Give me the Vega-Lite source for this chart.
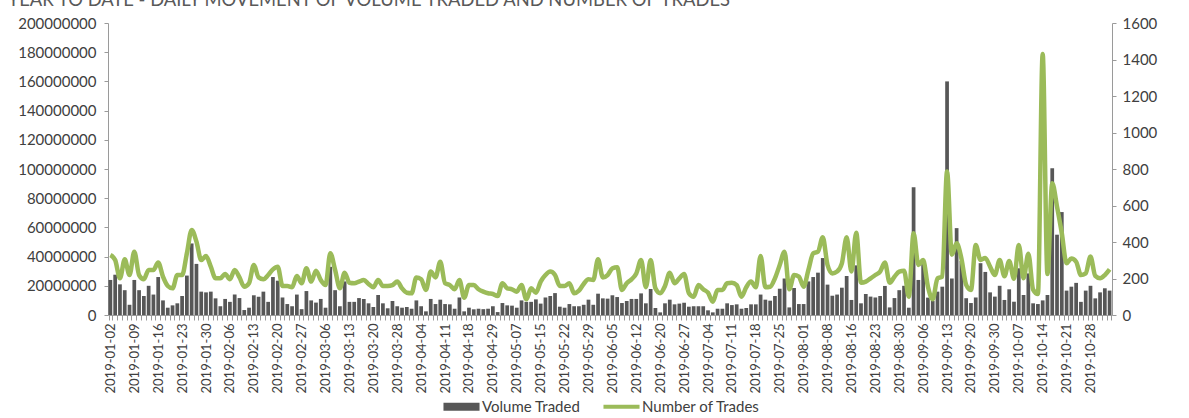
{
"$schema":"https://vega.github.io/schema/vega-lite/v6.json",
"width":1004,"height":292,
"autosize":{"type":"none"},
"padding":{"left":108,"top":23,"right":77,"bottom":103},
"background":"white",
"config":{"view":{"stroke":null},"font":"Lato"},
"title":{"text":"YEAR TO DATE - DAILY MOVEMENT OF VOLUME TRADED AND NUMBER OF TRADES","anchor":"start","dx":-10,"offset":7,"fontSize":18.4,"fontWeight":"normal","color":"#595959","font":"Lato"},
"data":{"values":[
{"date":"2019-01-02","volume":24000000,"trades":329},
{"date":"2019-01-03","volume":27600000,"trades":301},
{"date":"2019-01-04","volume":21000000,"trades":201},
{"date":"2019-01-07","volume":17000000,"trades":305},
{"date":"2019-01-08","volume":7000000,"trades":219},
{"date":"2019-01-09","volume":24000000,"trades":347},
{"date":"2019-01-10","volume":17000000,"trades":219},
{"date":"2019-01-11","volume":13000000,"trades":196},
{"date":"2019-01-14","volume":20000000,"trades":247},
{"date":"2019-01-15","volume":14000000,"trades":247},
{"date":"2019-01-16","volume":26000000,"trades":287},
{"date":"2019-01-17","volume":10000000,"trades":210},
{"date":"2019-01-18","volume":5000000,"trades":159},
{"date":"2019-01-21","volume":6600000,"trades":146},
{"date":"2019-01-22","volume":8000000,"trades":219},
{"date":"2019-01-23","volume":13000000,"trades":219},
{"date":"2019-01-24","volume":27000000,"trades":338},
{"date":"2019-01-25","volume":49000000,"trades":466},
{"date":"2019-01-28","volume":35000000,"trades":402},
{"date":"2019-01-29","volume":16000000,"trades":301},
{"date":"2019-01-30","volume":15500000,"trades":323},
{"date":"2019-01-31","volume":16000000,"trades":265},
{"date":"2019-02-01","volume":11400000,"trades":201},
{"date":"2019-02-04","volume":6000000,"trades":201},
{"date":"2019-02-05","volume":11000000,"trades":225},
{"date":"2019-02-06","volume":9000000,"trades":196},
{"date":"2019-02-07","volume":14000000,"trades":247},
{"date":"2019-02-08","volume":11600000,"trades":206},
{"date":"2019-02-11","volume":3400000,"trades":155},
{"date":"2019-02-12","volume":5000000,"trades":174},
{"date":"2019-02-13","volume":13500000,"trades":274},
{"date":"2019-02-14","volume":12500000,"trades":206},
{"date":"2019-02-15","volume":16000000,"trades":196},
{"date":"2019-02-18","volume":9000000,"trades":219},
{"date":"2019-02-19","volume":26000000,"trades":250},
{"date":"2019-02-20","volume":23500000,"trades":265},
{"date":"2019-02-21","volume":12000000,"trades":159},
{"date":"2019-02-22","volume":7500000,"trades":159},
{"date":"2019-02-25","volume":6000000,"trades":152},
{"date":"2019-02-26","volume":14000000,"trades":214},
{"date":"2019-02-27","volume":4000000,"trades":174},
{"date":"2019-02-28","volume":16400000,"trades":256},
{"date":"2019-03-01","volume":10000000,"trades":183},
{"date":"2019-03-04","volume":8500000,"trades":243},
{"date":"2019-03-05","volume":11000000,"trades":192},
{"date":"2019-03-06","volume":5000000,"trades":164},
{"date":"2019-03-07","volume":33000000,"trades":338},
{"date":"2019-03-08","volume":17000000,"trades":247},
{"date":"2019-03-11","volume":6000000,"trades":146},
{"date":"2019-03-12","volume":23000000,"trades":232},
{"date":"2019-03-13","volume":9000000,"trades":177},
{"date":"2019-03-14","volume":9000000,"trades":174},
{"date":"2019-03-15","volume":11600000,"trades":183},
{"date":"2019-03-18","volume":11000000,"trades":192},
{"date":"2019-03-19","volume":8000000,"trades":170},
{"date":"2019-03-20","volume":5500000,"trades":152},
{"date":"2019-03-22","volume":13700000,"trades":192},
{"date":"2019-03-25","volume":8000000,"trades":159},
{"date":"2019-03-26","volume":4600000,"trades":159},
{"date":"2019-03-27","volume":9600000,"trades":164},
{"date":"2019-03-28","volume":6000000,"trades":183},
{"date":"2019-03-29","volume":5000000,"trades":146},
{"date":"2019-04-01","volume":5500000,"trades":122},
{"date":"2019-04-02","volume":4300000,"trades":119},
{"date":"2019-04-03","volume":10000000,"trades":206},
{"date":"2019-04-04","volume":6000000,"trades":196},
{"date":"2019-04-05","volume":2500000,"trades":137},
{"date":"2019-04-08","volume":11000000,"trades":238},
{"date":"2019-04-09","volume":7500000,"trades":206},
{"date":"2019-04-10","volume":10500000,"trades":292},
{"date":"2019-04-11","volume":7500000,"trades":174},
{"date":"2019-04-12","volume":7300000,"trades":164},
{"date":"2019-04-15","volume":4300000,"trades":141},
{"date":"2019-04-16","volume":12000000,"trades":192},
{"date":"2019-04-17","volume":2500000,"trades":95},
{"date":"2019-04-18","volume":5000000,"trades":164},
{"date":"2019-04-23","volume":3900000,"trades":164},
{"date":"2019-04-24","volume":4300000,"trades":141},
{"date":"2019-04-25","volume":4000000,"trades":128},
{"date":"2019-04-26","volume":4300000,"trades":119},
{"date":"2019-04-29","volume":6000000,"trades":115},
{"date":"2019-04-30","volume":2000000,"trades":104},
{"date":"2019-05-02","volume":8200000,"trades":174},
{"date":"2019-05-03","volume":6600000,"trades":146},
{"date":"2019-05-06","volume":6400000,"trades":141},
{"date":"2019-05-07","volume":5000000,"trades":128},
{"date":"2019-05-09","volume":10000000,"trades":164},
{"date":"2019-05-10","volume":9000000,"trades":86},
{"date":"2019-05-13","volume":9000000,"trades":146},
{"date":"2019-05-14","volume":10700000,"trades":122},
{"date":"2019-05-15","volume":7800000,"trades":183},
{"date":"2019-05-16","volume":12000000,"trades":219},
{"date":"2019-05-17","volume":13000000,"trades":238},
{"date":"2019-05-20","volume":15000000,"trades":219},
{"date":"2019-05-21","volume":5700000,"trades":159},
{"date":"2019-05-22","volume":5000000,"trades":159},
{"date":"2019-05-23","volume":7500000,"trades":174},
{"date":"2019-05-24","volume":6000000,"trades":119},
{"date":"2019-05-27","volume":6000000,"trades":133},
{"date":"2019-05-28","volume":7000000,"trades":170},
{"date":"2019-05-29","volume":10500000,"trades":196},
{"date":"2019-05-30","volume":7000000,"trades":192},
{"date":"2019-05-31","volume":14600000,"trades":305},
{"date":"2019-06-03","volume":11400000,"trades":206},
{"date":"2019-06-04","volume":11200000,"trades":219},
{"date":"2019-06-05","volume":13500000,"trades":256},
{"date":"2019-06-06","volume":12300000,"trades":261},
{"date":"2019-06-07","volume":8200000,"trades":137},
{"date":"2019-06-10","volume":9600000,"trades":174},
{"date":"2019-06-11","volume":11000000,"trades":195},
{"date":"2019-06-12","volume":11000000,"trades":228},
{"date":"2019-06-13","volume":14800000,"trades":301},
{"date":"2019-06-14","volume":8000000,"trades":152},
{"date":"2019-06-18","volume":17800000,"trades":301},
{"date":"2019-06-19","volume":4800000,"trades":146},
{"date":"2019-06-20","volume":1800000,"trades":119},
{"date":"2019-06-21","volume":8000000,"trades":159},
{"date":"2019-06-24","volume":10500000,"trades":232},
{"date":"2019-06-25","volume":7300000,"trades":174},
{"date":"2019-06-26","volume":7800000,"trades":201},
{"date":"2019-06-27","volume":8400000,"trades":225},
{"date":"2019-06-28","volume":5700000,"trades":119},
{"date":"2019-07-01","volume":6000000,"trades":100},
{"date":"2019-07-02","volume":6000000,"trades":164},
{"date":"2019-07-03","volume":6000000,"trades":141},
{"date":"2019-07-04","volume":3200000,"trades":122},
{"date":"2019-07-05","volume":1800000,"trades":73},
{"date":"2019-07-08","volume":4300000,"trades":137},
{"date":"2019-07-09","volume":4300000,"trades":137},
{"date":"2019-07-10","volume":8000000,"trades":174},
{"date":"2019-07-11","volume":6800000,"trades":177},
{"date":"2019-07-12","volume":7300000,"trades":164},
{"date":"2019-07-15","volume":4300000,"trades":100},
{"date":"2019-07-16","volume":4800000,"trades":152},
{"date":"2019-07-17","volume":7300000,"trades":183},
{"date":"2019-07-18","volume":7300000,"trades":152},
{"date":"2019-07-19","volume":14000000,"trades":323},
{"date":"2019-07-22","volume":10500000,"trades":152},
{"date":"2019-07-23","volume":9800000,"trades":155},
{"date":"2019-07-24","volume":13000000,"trades":201},
{"date":"2019-07-25","volume":18000000,"trades":274},
{"date":"2019-07-26","volume":25000000,"trades":347},
{"date":"2019-07-29","volume":5200000,"trades":141},
{"date":"2019-07-30","volume":18500000,"trades":219},
{"date":"2019-07-31","volume":7500000,"trades":210},
{"date":"2019-08-01","volume":7500000,"trades":155},
{"date":"2019-08-02","volume":23000000,"trades":247},
{"date":"2019-08-05","volume":26000000,"trades":338},
{"date":"2019-08-06","volume":29000000,"trades":347},
{"date":"2019-08-07","volume":39000000,"trades":426},
{"date":"2019-08-08","volume":20800000,"trades":274},
{"date":"2019-08-12","volume":13200000,"trades":228},
{"date":"2019-08-13","volume":14000000,"trades":238},
{"date":"2019-08-14","volume":18700000,"trades":283},
{"date":"2019-08-15","volume":26700000,"trades":426},
{"date":"2019-08-16","volume":10300000,"trades":238},
{"date":"2019-08-19","volume":34000000,"trades":451},
{"date":"2019-08-20","volume":8000000,"trades":177},
{"date":"2019-08-21","volume":14400000,"trades":183},
{"date":"2019-08-22","volume":12600000,"trades":201},
{"date":"2019-08-23","volume":12000000,"trades":219},
{"date":"2019-08-26","volume":13000000,"trades":238},
{"date":"2019-08-27","volume":19900000,"trades":287},
{"date":"2019-08-28","volume":5200000,"trades":177},
{"date":"2019-08-29","volume":11600000,"trades":210},
{"date":"2019-08-30","volume":17000000,"trades":238},
{"date":"2019-09-02","volume":20000000,"trades":243},
{"date":"2019-09-03","volume":5000000,"trades":100},
{"date":"2019-09-04","volume":87500000,"trades":448},
{"date":"2019-09-05","volume":24000000,"trades":274},
{"date":"2019-09-06","volume":36000000,"trades":301},
{"date":"2019-09-09","volume":11900000,"trades":155},
{"date":"2019-09-10","volume":9600000,"trades":86},
{"date":"2019-09-11","volume":16000000,"trades":201},
{"date":"2019-09-12","volume":19400000,"trades":210},
{"date":"2019-09-13","volume":160000000,"trades":786},
{"date":"2019-09-16","volume":25000000,"trades":330},
{"date":"2019-09-17","volume":59500000,"trades":393},
{"date":"2019-09-18","volume":37000000,"trades":310},
{"date":"2019-09-19","volume":11500000,"trades":165},
{"date":"2019-09-20","volume":8200000,"trades":137},
{"date":"2019-09-23","volume":12000000,"trades":384},
{"date":"2019-09-25","volume":35500000,"trades":301},
{"date":"2019-09-26","volume":29500000,"trades":313},
{"date":"2019-09-27","volume":15500000,"trades":265},
{"date":"2019-09-30","volume":12600000,"trades":219},
{"date":"2019-10-01","volume":20000000,"trades":301},
{"date":"2019-10-02","volume":10300000,"trades":212},
{"date":"2019-10-03","volume":17600000,"trades":296},
{"date":"2019-10-04","volume":9100000,"trades":198},
{"date":"2019-10-07","volume":32000000,"trades":384},
{"date":"2019-10-08","volume":13700000,"trades":201},
{"date":"2019-10-09","volume":28500000,"trades":336},
{"date":"2019-10-10","volume":8000000,"trades":139},
{"date":"2019-10-11","volume":7500000,"trades":115},
{"date":"2019-10-14","volume":10000000,"trades":1430},
{"date":"2019-10-15","volume":13700000,"trades":224},
{"date":"2019-10-16","volume":100500000,"trades":722},
{"date":"2019-10-17","volume":55000000,"trades":594},
{"date":"2019-10-18","volume":70500000,"trades":448},
{"date":"2019-10-21","volume":16700000,"trades":283},
{"date":"2019-10-22","volume":19400000,"trades":310},
{"date":"2019-10-23","volume":22000000,"trades":292},
{"date":"2019-10-24","volume":9000000,"trades":219},
{"date":"2019-10-25","volume":16700000,"trades":228},
{"date":"2019-10-28","volume":20000000,"trades":320},
{"date":"2019-10-29","volume":11400000,"trades":214},
{"date":"2019-10-30","volume":15500000,"trades":201},
{"date":"2019-10-31","volume":18300000,"trades":219},
{"date":"2019-11-01","volume":16700000,"trades":250}
]},
"encoding":{
 "x":{"field":"date","type":"ordinal","sort":null,"title":null,
  "scale":{"paddingInner":0.22,"paddingOuter":0.11},
  "axis":{"labelAngle":-90,"labelFontSize":13,"labelColor":"#404040","labelFont":"Lato","labelOverlap":false,"labelPadding":3,
   "tickSize":5,"tickColor":"#9a9a9a","tickBand":"extent","domainColor":"#9a9a9a",
   "labelExpr":"indexof(['2019-01-02','2019-01-09','2019-01-16','2019-01-23','2019-01-30','2019-02-06','2019-02-13','2019-02-20','2019-02-27','2019-03-06','2019-03-13','2019-03-20','2019-03-28','2019-04-04','2019-04-11','2019-04-18','2019-04-29','2019-05-07','2019-05-15','2019-05-22','2019-05-29','2019-06-05','2019-06-12','2019-06-20','2019-06-27','2019-07-04','2019-07-11','2019-07-18','2019-07-25','2019-08-01','2019-08-08','2019-08-16','2019-08-23','2019-08-30','2019-09-06','2019-09-13','2019-09-20','2019-09-30','2019-10-07','2019-10-14','2019-10-21','2019-10-28'], datum.value) >= 0 ? datum.value : ''"}}
},
"layer":[
 {"mark":{"type":"bar"},
  "encoding":{
   "y":{"field":"volume","type":"quantitative","title":null,
    "scale":{"domain":[0,200000000],"nice":false},
    "axis":{"orient":"left","values":[0,20000000,40000000,60000000,80000000,100000000,120000000,140000000,160000000,180000000,200000000],"format":"d","labelFontSize":15,"labelColor":"#404040","labelFont":"Lato","grid":false,"tickSize":4,"tickColor":"#9a9a9a","domainColor":"#9a9a9a","labelPadding":8}},
   "color":{"datum":"Volume Traded","type":"nominal",
    "scale":{"domain":["Volume Traded","Number of Trades"],"range":["#575757","#9BBB59"]},
    "legend":{"orient":"none","legendX":335,"legendY":365,"direction":"horizontal","title":null,"labelFont":"Lato","labelFontSize":15,"labelColor":"#404040","symbolType":"M-1,-0.22H1V0.22H-1Z","symbolSize":1300,"symbolStrokeWidth":0,"columnPadding":22,"labelOffset":2,
     "encode":{"symbols":{"update":{"shape":{"signal":"datum.value === 'Volume Traded' ? 'M-1,-0.22H1V0.22H-1Z' : 'M-1,-0.11H1V0.11H-1Z'"},"fill":{"signal":"datum.value === 'Volume Traded' ? '#575757' : '#9BBB59'"}}}}}}
  }},
 {"mark":{"type":"line","strokeWidth":4.5,"interpolate":"monotone"},
  "encoding":{
   "y":{"field":"trades","type":"quantitative","title":null,
    "scale":{"domain":[0,1600],"nice":false},
    "axis":{"orient":"right","values":[0,200,400,600,800,1000,1200,1400,1600],"format":"d","labelFontSize":15,"labelColor":"#404040","labelFont":"Lato","grid":false,"tickSize":4,"tickColor":"#9a9a9a","domainColor":"#9a9a9a","labelPadding":6}},
   "color":{"datum":"Number of Trades","type":"nominal"}
  }}
],
"resolve":{"scale":{"y":"independent"}}
}
